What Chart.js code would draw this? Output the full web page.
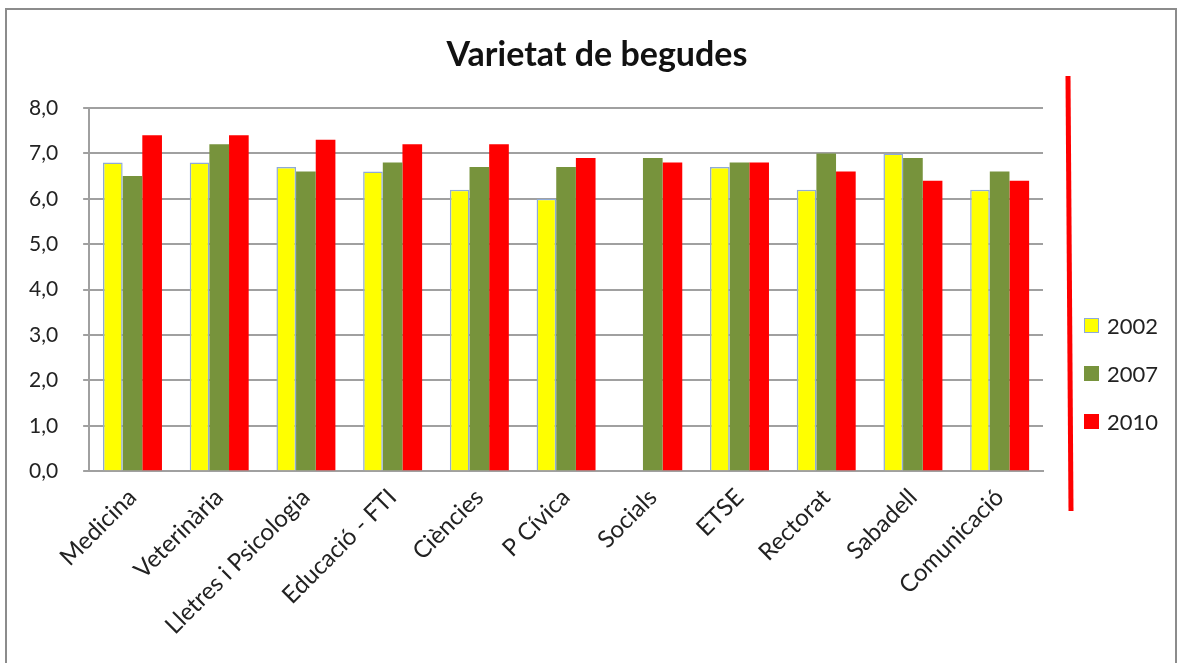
<!DOCTYPE html>
<html>
<head>
<meta charset="utf-8">
<script src="https://cdn.jsdelivr.net/npm/chart.js@4.4.0/dist/chart.umd.min.js"></script>
<style>
    body { margin: 0; background: #fff; overflow: hidden; }
    #frame {
        position: absolute; left: 5px; top: 8px; width: 1168px; height: 700px;
        border-left: 2px solid #8c8c8c; border-top: 2px solid #8c8c8c; border-right: 2px solid #8c8c8c;
    }
    #wrap { position: absolute; left: 0; top: 0; width: 1177px; height: 663px; }
    #legend { position: absolute; left: 1084px; top: 312px; font-family: Lato, sans-serif; font-size: 22px; color: #222; }
    #legend div { height: 48px; display: flex; align-items: flex-start; }
    #legend span.box { display: inline-block; width: 15px; height: 15px; margin-right: 8px; margin-top: 6px; box-sizing: border-box; }
</style>
</head>
<body>
<div id="frame"></div>
<div id="wrap"><canvas id="chart" width="1177" height="663"></canvas></div>
<div id="legend"></div>
<script>
// Data
const categories = ['Medicina', 'Veterinària', 'Lletres i Psicologia', 'Educació - FTI', 'Ciències',
    'P Cívica', 'Socials', 'ETSE', 'Rectorat', 'Sabadell', 'Comunicació'];
const years = ['2002', '2007', '2010'];
const values2002 = [6.8, 6.8, 6.7, 6.6, 6.2, 6.0, null, 6.7, 6.2, 7.0, 6.2];
const values2007 = [6.5, 7.2, 6.6, 6.8, 6.7, 6.7, 6.9, 6.8, 7.0, 6.9, 6.6];
const values2010 = [7.4, 7.4, 7.3, 7.2, 7.2, 6.9, 6.8, 6.8, 6.6, 6.4, 6.4];
const yTicks = [0, 1, 2, 3, 4, 5, 6, 7, 8];

const colors = ['#ffff00', '#77933c', '#ff0000'];
const borders = ['#8eaad8', '#77933c', '#ff0000'];

// Title and the red hand-drawn stroke on the right side
const extras = {
    id: 'extras',
    afterDraw(chart) {
        const ctx = chart.ctx;
        ctx.save();
        ctx.fillStyle = '#111';
        ctx.font = 'bold 34px Lato';
        ctx.textAlign = 'center';
        ctx.textBaseline = 'middle';
        ctx.fillText('Varietat de begudes', 597, 55);

        ctx.strokeStyle = '#ff0000';
        ctx.lineWidth = 5;
        ctx.beginPath();
        ctx.moveTo(1068, 76);
        ctx.lineTo(1071, 511);
        ctx.stroke();
        ctx.restore();
    }
};

const ctx = document.getElementById('chart').getContext('2d');
const chart = new Chart(ctx, {
    type: 'bar',
    data: {
        labels: categories,
        datasets: [values2002, values2007, values2010].map((d, i) => ({
            label: years[i],
            data: d,
            backgroundColor: colors[i],
            borderColor: borders[i],
            borderWidth: i === 0 ? 1.5 : 0,
            categoryPercentage: 0.68,
            barPercentage: 1.0
        }))
    },
    options: {
        responsive: false,
        animation: false,
        layout: { padding: { top: 108, left: 4, right: 134, bottom: 19 } },
        scales: {
            x: {
                grid: { display: false },
                border: { color: '#a0a0a0', width: 2 },
                ticks: {
                    color: '#222',
                    font: { family: 'Lato', size: 24 },
                    minRotation: 45, maxRotation: 45, padding: 4
                }
            },
            y: {
                min: 0, max: 8,
                afterBuildTicks: axis => { axis.ticks = yTicks.map(v => ({ value: v })); },
                grid: { color: '#a0a0a0', lineWidth: 2, tickLength: 6 },
                border: { color: '#a0a0a0', width: 2 },
                ticks: {
                    color: '#222',
                    font: { family: 'Lato', size: 21 },
                    padding: 25,
                    callback: v => v.toFixed(1).replace('.', ',')
                }
            }
        },
        plugins: {
            legend: { display: false },
            tooltip: { enabled: false },
            title: { display: false }
        }
    },
    plugins: [extras]
});

// Legend
const legend = document.getElementById('legend');
years.forEach((y, i) => {
    const row = document.createElement('div');
    const box = document.createElement('span');
    box.className = 'box';
    box.style.background = colors[i];
    box.style.border = '1.5px solid ' + borders[i];
    row.appendChild(box);
    row.appendChild(document.createTextNode(y));
    legend.appendChild(row);
});
</script>
</body>
</html>
